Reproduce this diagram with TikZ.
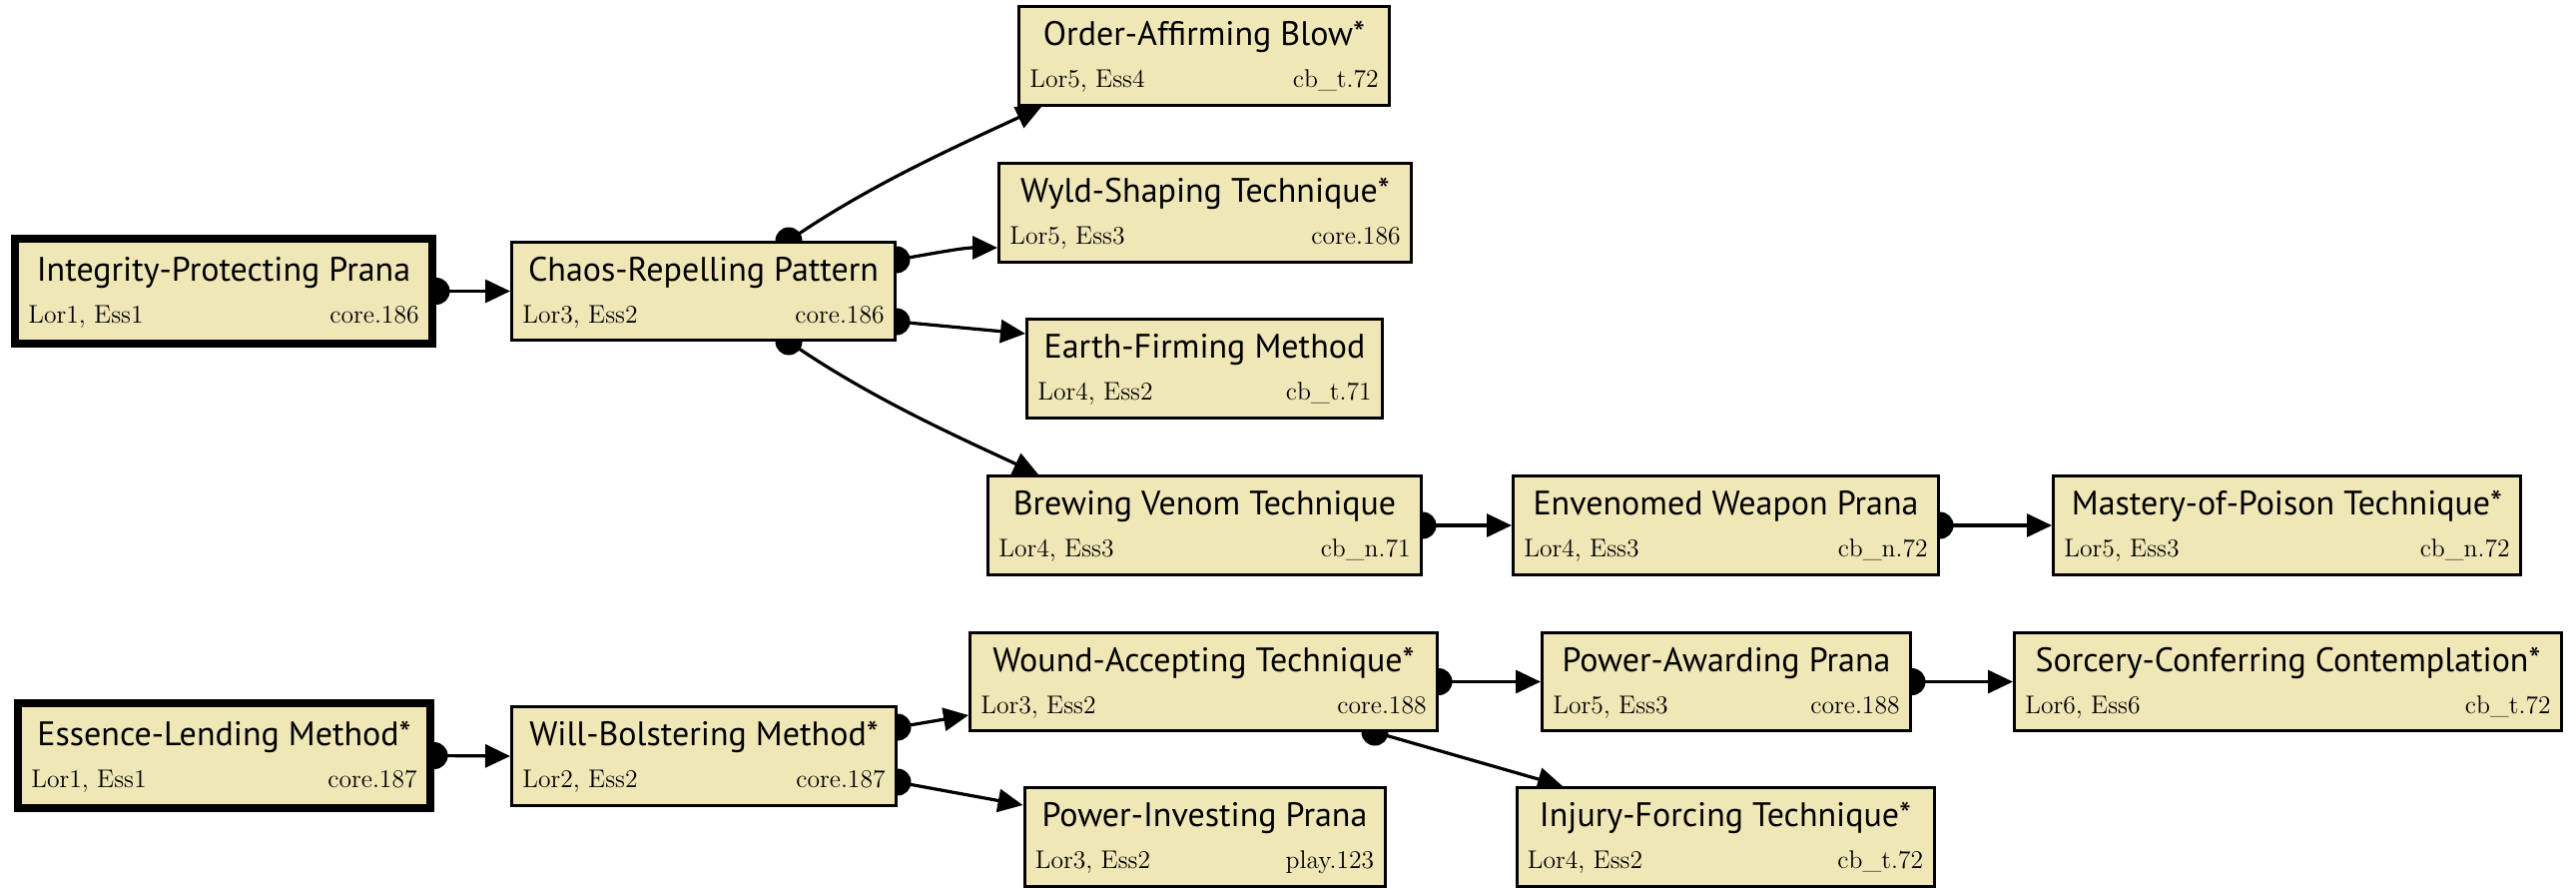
\documentclass[tikz,border=0pt]{standalone}
\usepackage{fontspec}
\newfontfamily\titlefont{PT Sans}
\usetikzlibrary{arrows.meta,backgrounds}
\definecolor{cardfill}{RGB}{240,231,183}

\tikzset{
  card inset/.initial=6pt,
  cardbox/.style={draw=black, fill=cardfill, line width=1.5pt, rectangle, inner sep=0pt},
  rootcard/.style={card inset=8.5pt, cardbox/.append style={line width=4pt}},
  cardtitle/.style={inner sep=0pt, font=\titlefont\fontsize{17}{19}\selectfont},
  cardsub/.style={inner sep=0pt, font=\fontsize{12.8}{14}\selectfont},
  link/.style={line width=1.6pt, -{Triangle[length=12.5pt,width=11.5pt]}},
}

% \card[style]{name}{x}{y}{width}{height}{title}{traits}{reference}
\newcommand\card[9][]{%
  \begin{scope}[#1]
    \node[cardbox, minimum width=#5*0.5pt, minimum height=#6*0.5pt] (#2) at (#3,#4) {};
    \node[cardtitle, anchor=base] (#2-title) at ([yshift=5.25pt]#2.center) {#7};
    \node[cardsub, anchor=base west] (#2-traits)
      at ([xshift=\pgfkeysvalueof{/tikz/card inset}, yshift=-15.75pt]#2.west) {#8};
    \node[cardsub, anchor=base east] (#2-ref)
      at ([xshift=-\pgfkeysvalueof{/tikz/card inset}, yshift=-15.75pt]#2.east) {#9};
  \end{scope}}

% dependency link: a round dot at the prerequisite, an arrow at the charm
\newcommand\link[2]{\fill #1 circle[radius=6.75pt]; \draw[link] #1 #2;}

\begin{document}
\begin{tikzpicture}[x=0.5pt, y=-0.5pt]
  \useasboundingbox (0,0) rectangle (2580,889);

  % first tree
  \card[rootcard]{integrity}{224}{291.5}{418}{105}{Integrity-Protecting Prana}{Lor1, Ess1}{core.186}
  \card{chaos}{704.5}{291.5}{384}{98}{Chaos-Repelling Pattern}{Lor3, Ess2}{core.186}
  \card{order}{1206}{56}{371}{99}{Order-Affirming Blow*}{Lor5, Ess4}{cb\_t.72}
  \card{wyld}{1207}{213}{413}{99}{Wyld-Shaping Technique*}{Lor5, Ess3}{core.186}
  \card{earth}{1206.5}{369}{356}{99}{Earth-Firming Method}{Lor4, Ess2}{cb\_t.71}
  \card{brewing}{1206.5}{526}{434}{99}{Brewing Venom Technique}{Lor4, Ess3}{cb\_n.71}
  \card{envenomed}{1728.5}{526}{426}{99}{Envenomed Weapon Prana}{Lor4, Ess3}{cb\_n.72}
  \card{mastery}{2290.5}{526}{468}{99}{Mastery-of-Poison Technique*}{Lor5, Ess3}{cb\_n.72}

  % second tree
  \card[rootcard]{essence}{224.5}{756.5}{413}{105}{Essence-Lending Method*}{Lor1, Ess1}{core.187}
  \card{will}{705}{757}{385}{99}{Will-Bolstering Method*}{Lor2, Ess2}{core.187}
  \card{wound}{1205.5}{682.5}{468}{98}{Wound-Accepting Technique*}{Lor3, Ess2}{core.188}
  \card{awarding}{1729}{682.5}{369}{98}{Power-Awarding Prana}{Lor5, Ess3}{core.188}
  \card{sorcery}{2291.5}{682.5}{548}{98}{Sorcery-Conferring Contemplation*}{Lor6, Ess6}{cb\_t.72}
  \card{investing}{1206.5}{838}{361}{99}{Power-Investing Prana}{Lor3, Ess2}{play.123}
  \card{injury}{1728}{838}{418}{99}{Injury-Forcing Technique*}{Lor4, Ess2}{cb\_t.72}

  \begin{pgfonlayer}{background}
    \link{(integrity.east)}{-- (chaos.west)}
    \link{([xshift=42.75pt]chaos.north)}{.. controls +(80,-56) and +(-75,35) .. ([xshift=-81.5pt]order.south)}
    \link{([yshift=15.75pt]chaos.east)}{.. controls +(35,-6) and +(-35,0) .. ([yshift=-17.5pt]wyld.west)}
    \link{([yshift=-15.25pt]chaos.east)}{-- ([yshift=17.5pt]earth.west)}
    \link{([xshift=42.75pt]chaos.south)}{.. controls +(80,56) and +(-75,-35) .. ([xshift=-83.25pt]brewing.north)}
    \link{(brewing.east)}{-- (envenomed.west)}
    \link{(envenomed.east)}{-- (mastery.west)}

    \link{(essence.east)}{-- (will.west)}
    \link{([yshift=14.5pt]will.east)}{-- ([yshift=-16.75pt]wound.west)}
    \link{([yshift=-13pt]will.east)}{-- ([yshift=16pt]investing.west)}
    \link{(wound.east)}{-- (awarding.west)}
    \link{(awarding.east)}{-- (sorcery.west)}
    \link{([xshift=85.75pt]wound.south)}{-- ([xshift=-81.5pt]injury.north)}
  \end{pgfonlayer}
\end{tikzpicture}
\end{document}
